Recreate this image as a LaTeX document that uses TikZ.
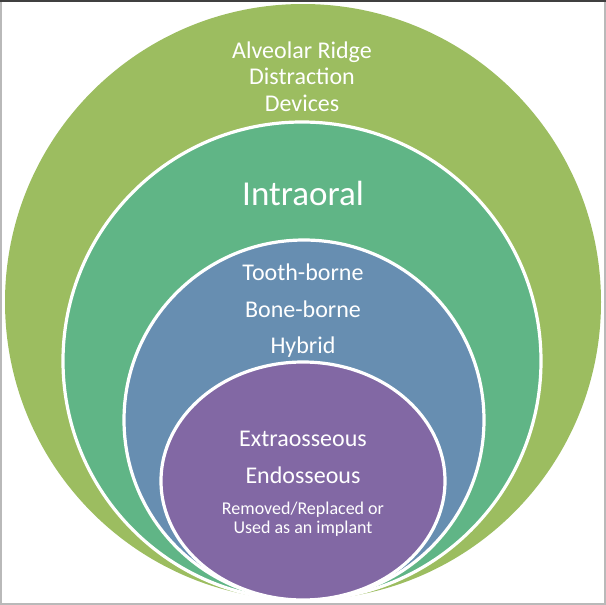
\documentclass[tikz,border=0pt]{standalone}
\usepackage{fontspec}
\setmainfont{Carlito}
\definecolor{ringA}{RGB}{156,189,96}
\definecolor{ringB}{RGB}{96,181,134}
\definecolor{ringC}{RGB}{103,142,177}
\definecolor{ringD}{RGB}{130,104,164}
\begin{document}
\begin{tikzpicture}[x=1pt,y=-1pt,
  ring/.style={draw=white,line width=3.2pt},
  lbl/.style={text=white,anchor=base,inner sep=0pt,font=\fontsize{24}{28}\selectfont},
  biglbl/.style={text=white,anchor=base,inner sep=0pt,font=\fontsize{35}{40}\selectfont},
  smalllbl/.style={text=white,anchor=base,inner sep=0pt,font=\fontsize{18}{20}\selectfont}]
\useasboundingbox (0,0) rectangle (606,605);
\fill[white] (0,0) rectangle (606,605);
% rings
\fill[ringA] (303,302) circle (298);
\filldraw[fill=ringB,ring] (302,361) circle (239);
\filldraw[fill=ringC,ring] (304,420) circle (180);
\filldraw[fill=ringD,ring] (303,481) ellipse (142 and 119);
% frame
\draw[gray!55,line width=1.6pt] (0.8,0.8) rectangle (605.2,604.2);
\draw[black!75,line width=1.6pt] (0,0.8) -- (606,0.8);
% labels
\node[lbl] (t1) at (302,58) {Alveolar Ridge};
\node[lbl] (t2) at (302,84.5) {Distraction};
\node[lbl] (t3) at (302,111) {Devices};
\node[biglbl] (intra) at (303,205) {Intraoral};
\node[lbl] (b1) at (303,280) {Tooth-borne};
\node[lbl] (b2) at (303,317) {Bone-borne};
\node[lbl] (b3) at (303,353) {Hybrid};
\node[lbl] (p1) at (303,446) {Extraosseous};
\node[lbl] (p2) at (303,483) {Endosseous};
\node[smalllbl] (p3) at (303,514) {Removed/Replaced or};
\node[smalllbl] (p4) at (303,533) {Used as an implant};
\end{tikzpicture}
\end{document}
